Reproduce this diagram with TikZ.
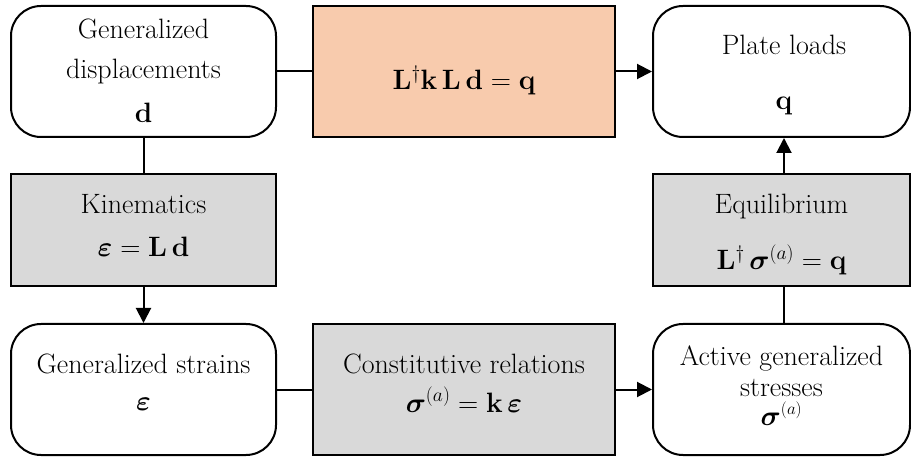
\RequirePackage{fix-cm}
\documentclass[tikz,border=0pt]{standalone}
\usepackage{amsmath,bm}
\usetikzlibrary{arrows.meta}
\definecolor{orangefill}{HTML}{F8CBAD}
\definecolor{grayfill}{HTML}{D9D9D9}
\begin{document}
\begin{tikzpicture}[x=1pt,y=-1pt,
  base/.style={draw=black,line width=2pt,inner sep=0pt},
  roundbox/.style={base,rounded corners=30pt,fill=white},
  graybox/.style={base,fill=grayfill},
  orangebox/.style={base,fill=orangefill},
  txt/.style={anchor=base,inner sep=0pt,font=\fontsize{28}{34}\selectfont},
  conn/.style={line width=2pt},
  arr/.style={line width=2pt,-{Triangle[length=15pt,width=15pt]}}]
\useasboundingbox (0,0) rectangle (911,457);
% boxes
\node[roundbox,minimum width=265pt,minimum height=131pt] (disp) at (143.5,71.5) {};
\node[orangebox,minimum width=302pt,minimum height=131pt] (eqn) at (464,71.5) {};
\node[roundbox,minimum width=257pt,minimum height=131pt] (loads) at (781.5,71.5) {};
\node[graybox,minimum width=265pt,minimum height=112pt] (kin) at (143.5,230) {};
\node[graybox,minimum width=257pt,minimum height=112pt] (equil) at (781.5,230) {};
\node[roundbox,minimum width=265pt,minimum height=131pt] (strain) at (143.5,389.5) {};
\node[graybox,minimum width=302pt,minimum height=131pt] (const) at (464,389.5) {};
\node[roundbox,minimum width=257pt,minimum height=131pt] (active) at (781.5,389.5) {};
% texts
\node[txt] (t1) at (143.5,39) {Generalized};
\node[txt] (t2) at (143.5,79) {displacements};
\node[txt] (t3) at (143.5,123) {$\mathbf{d}$};
\node[txt] (t4) at (464,90) {$\mathbf{L}^{\dagger}\mathbf{k}\,\mathbf{L}\,\mathbf{d}=\mathbf{q}$};
\node[txt] (t5) at (784,55) {Plate loads};
\node[txt] (t6) at (784,110) {$\mathbf{q}$};
\node[txt] (t7) at (143.5,214) {Kinematics};
\node[txt] (t8) at (143.5,257) {$\boldsymbol{\varepsilon}=\mathbf{L}\,\mathbf{d}$};
\node[txt] (t9) at (781.5,214) {Equilibrium};
\node[txt] (t10) at (781.5,270) {$\mathbf{L}^{\dagger}\,\boldsymbol{\sigma}^{(a)}=\mathbf{q}$};
\node[txt] (t11) at (143.5,373) {Generalized strains};
\node[txt] (t12) at (143.5,410) {$\boldsymbol{\varepsilon}$};
\node[txt] (t13) at (464,373) {Constitutive relations};
\node[txt] (t14) at (464,412) {$\boldsymbol{\sigma}^{(a)}=\mathbf{k}\,\boldsymbol{\varepsilon}$};
\node[txt] (t15) at (781.5,366) {Active generalized};
\node[txt] (t16) at (781.5,396) {stresses};
\node[txt] (t17) at (781.5,425) {$\boldsymbol{\sigma}^{\mbox{\fontsize{17}{17}\selectfont$(a)$}}$};
% connectors
\draw[conn] (disp) -- (eqn);
\draw[arr] (eqn) -- (loads);
\draw[conn] (disp) -- (kin);
\draw[arr] (kin) -- (strain);
\draw[conn] (strain) -- (const);
\draw[arr] (const) -- (active);
\draw[conn] ([xshift=2.5pt]active.north) -- ([xshift=2.5pt]equil.south);
\draw[arr] ([xshift=2.5pt]equil.north) -- ([xshift=2.5pt]loads.south);
\end{tikzpicture}
\end{document}
